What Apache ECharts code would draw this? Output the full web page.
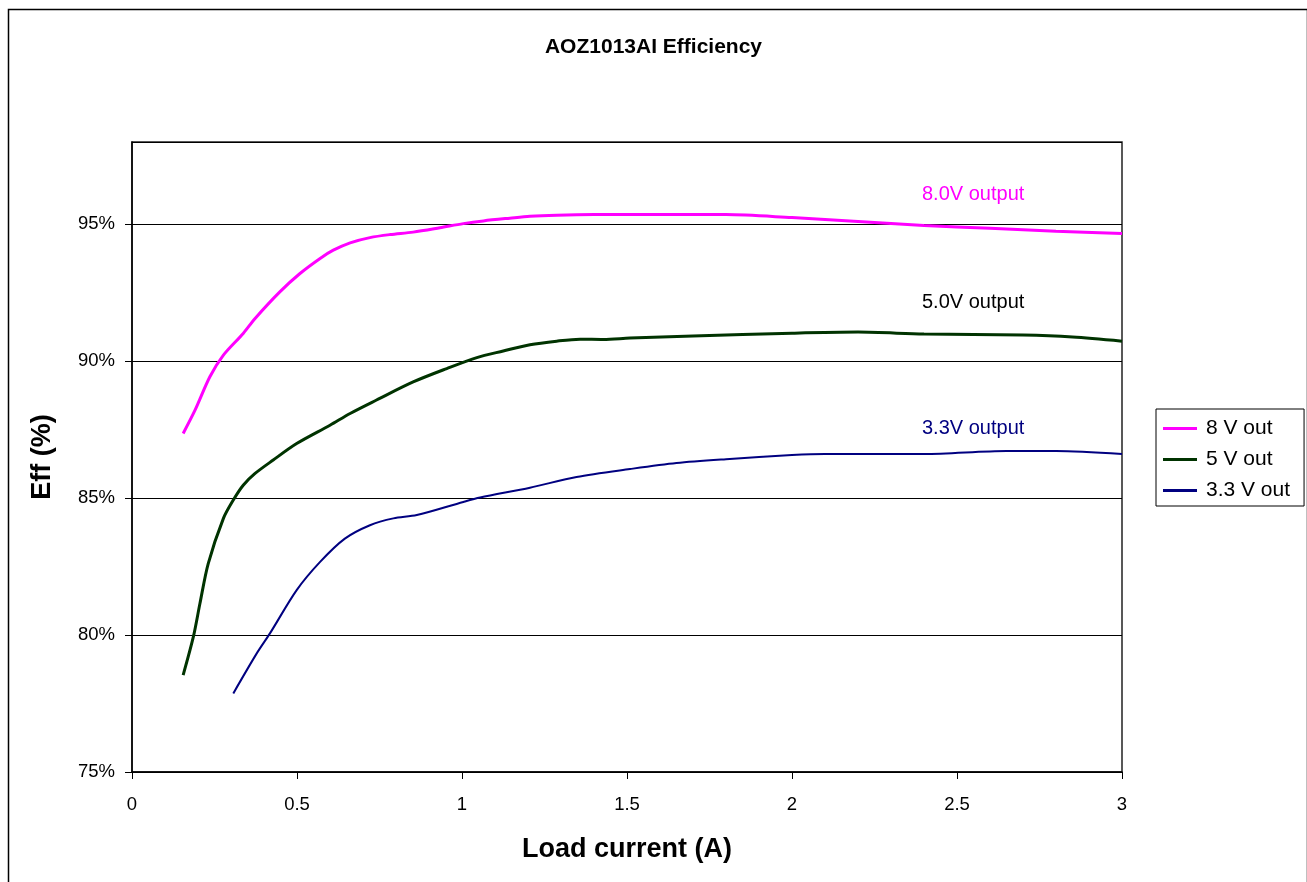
<!DOCTYPE html>
<html>
<head>
<meta charset="utf-8">
<script src="https://cdn.jsdelivr.net/npm/echarts@6/dist/echarts.min.js"></script>
<style>
html,body{margin:0;padding:0;background:#fff;}
#chart{width:1307px;height:882px;}
</style>
</head>
<body>
<div id="chart"></div>
<script>
// Load current (A) and efficiency (%) readings
const load8 = [0.155,0.191,0.236,0.277,0.337,0.373,0.448,0.509,0.570,0.610,0.661,0.721,0.782,0.852,0.933,1.004,1.065,1.145,1.206,1.287,1.4,1.6,1.8,2.0,2.2,2.4,2.6,2.8,3.0];
const eff8  = [87.36,88.21,89.43,90.22,91.01,91.56,92.53,93.20,93.75,94.05,94.32,94.51,94.62,94.71,94.87,95.02,95.12,95.22,95.29,95.33,95.35,95.35,95.35,95.24,95.10,94.95,94.85,94.74,94.66];

const load5 = [0.155,0.186,0.206,0.231,0.277,0.307,0.337,0.373,0.428,0.499,0.600,0.661,0.741,0.852,0.954,1.045,1.125,1.206,1.287,1.358,1.428,1.509,1.7,2.0,2.2,2.4,2.7,2.85,3.0];
const eff5  = [78.54,79.94,81.16,82.61,84.26,84.93,85.47,85.90,86.39,86.99,87.66,88.09,88.58,89.24,89.73,90.13,90.37,90.60,90.73,90.80,90.79,90.84,90.92,91.02,91.06,90.99,90.95,90.88,90.73];

const load33 = [0.307,0.378,0.418,0.499,0.570,0.645,0.721,0.792,0.863,1.004,1.055,1.206,1.347,1.509,1.65,1.8,2.0,2.1,2.4,2.65,2.8,3.0];
const eff33  = [77.87,79.33,80.06,81.64,82.67,83.52,84.01,84.26,84.38,84.86,85.02,85.38,85.77,86.06,86.28,86.42,86.57,86.61,86.61,86.72,86.72,86.61];

const seriesNames = ['8 V out','5 V out','3.3 V out'];
const seriesColors = ['#FF00FF','#003300','#000080'];
const annotations = ['8.0V output','5.0V output','3.3V output'];

function pairs(xs, ys){ return xs.map((x,i)=>[x, ys[i]]); }

const chart = echarts.init(document.getElementById('chart'));
const FONT = 'Liberation Sans, Arial, sans-serif';
chart.setOption({
  backgroundColor: '#fff',
  animation: false,
  textStyle: {fontFamily: FONT},
  title: {
    text: 'AOZ1013AI Efficiency',
    left: 'center', top: 32,
    textStyle: {fontSize: 21, fontWeight: 'bold', color: '#000', fontFamily: FONT}
  },
  grid: {left: 132, right: 185, top: 142, bottom: 110, show: true, borderColor: '#222', borderWidth: 1.5, backgroundColor: '#fff'},
  legend: {
    orient: 'vertical', left: 1156, top: 409,
    itemWidth: 34, itemHeight: 3, itemGap: 10,
    icon: 'rect',
    padding: [9, 14, 5, 7],
    borderColor: '#000', borderWidth: 1,
    textStyle: {fontSize: 21, color: '#000', fontFamily: FONT, padding: [0, 0, 0, 4]},
    data: seriesNames
  },
  xAxis: {
    type: 'value', min: 0, max: 3, interval: 0.5,
    name: 'Load current (A)', nameLocation: 'middle', nameGap: 64,
    nameTextStyle: {fontSize: 27, fontWeight: 'bold', color: '#000', fontFamily: FONT},
    axisLine: {lineStyle: {color: '#000', width: 1.5}},
    axisTick: {show: true, inside: false, length: 7, lineStyle: {color: '#000'}},
    axisLabel: {fontSize: 18.5, color: '#000', margin: 23},
    splitLine: {show: false}
  },
  yAxis: {
    type: 'value', min: 75, max: 98, interval: 5,
    name: 'Eff (%)', nameLocation: 'middle', nameGap: 76, nameRotate: 90,
    nameTextStyle: {fontSize: 27, fontWeight: 'bold', color: '#000', fontFamily: FONT},
    axisLine: {show: true, lineStyle: {color: '#000', width: 1.5}},
    axisTick: {show: true, inside: false, length: 7, lineStyle: {color: '#000'}},
    axisLabel: {fontSize: 18.5, color: '#000', margin: 17, showMaxLabel: false,
      formatter: v => (v % 5 === 0 ? v + '%' : '')},
    splitLine: {show: true, lineStyle: {color: '#000', width: 1}}
  },
  series: [
    {name: seriesNames[0], type: 'line', data: pairs(load8, eff8), smooth: 0.3, symbol: 'none', showSymbol: false,
     lineStyle: {color: seriesColors[0], width: 3}, itemStyle: {color: seriesColors[0]}},
    {name: seriesNames[1], type: 'line', data: pairs(load5, eff5), smooth: 0.3, symbol: 'none', showSymbol: false,
     lineStyle: {color: seriesColors[1], width: 3}, itemStyle: {color: seriesColors[1]}},
    {name: seriesNames[2], type: 'line', data: pairs(load33, eff33), smooth: 0.3, symbol: 'none', showSymbol: false,
     lineStyle: {color: seriesColors[2], width: 2}, itemStyle: {color: seriesColors[2]}}
  ],
  graphic: [
    {type: 'rect', left: 6, top: 7, shape: {width: 1299, height: 880}, style: {fill: 'none', stroke: '#000', lineWidth: 1.5}, silent: true, z: 100},
    {type: 'text', left: 922, top: 184, style: {text: annotations[0], fill: '#FF00FF', font: '20px ' + FONT}},
    {type: 'text', left: 922, top: 292, style: {text: annotations[1], fill: '#000', font: '20px ' + FONT}},
    {type: 'text', left: 922, top: 418, style: {text: annotations[2], fill: '#000080', font: '20px ' + FONT}}
  ]
});
</script>
</body>
</html>
